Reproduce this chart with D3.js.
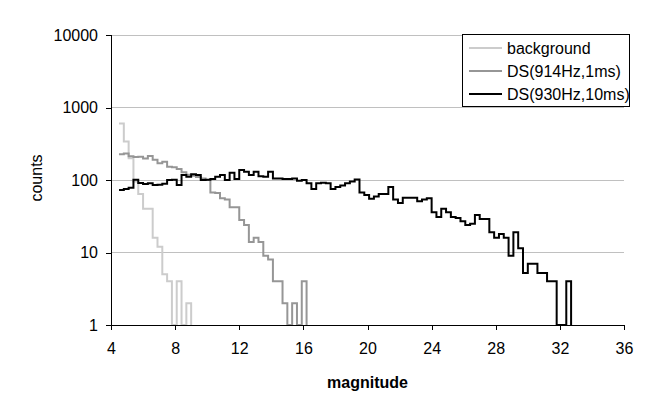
<!DOCTYPE html>
<html>
<head>
<meta charset="utf-8">
<script src="https://cdn.jsdelivr.net/npm/d3@7"></script>
<style>
  html, body { margin: 0; padding: 0; background: #fff; }
  svg { display: block; font-family: "Liberation Sans", Arial, sans-serif; }
</style>
</head>
<body>
<svg id="chart" width="652" height="414"></svg>
<script>
// ---- data ----
const binStart = 4.5;      // magnitude of first bin edge
const binWidth = 0.3;      // magnitude width of each bin
const xTicks = [4, 8, 12, 16, 20, 24, 28, 32, 36];
const yTicks = [1, 10, 100, 1000, 10000];
const seriesNames = ["background", "DS(914Hz,1ms)", "DS(930Hz,10ms)"];
const seriesColors = ["#cccccc", "#969696", "#000000"];

const background = [600, 340, 200, 95, 64, 40, 40, 16, 12, 5, 4, 0, 4, 0, 2];

const ds914 = [226, 232, 212, 208, 210, 198, 214, 190, 170, 178,
               152, 150, 142, 128, 118, 114, 110, 105, 100, 67,
               66, 56, 54, 42, 42, 28, 24, 14, 16, 14,
               9, 8, 4, 4, 2, 0, 2, 0, 4];

const ds930 = [73, 75, 78, 101, 91, 88, 90, 85, 86, 89,
               100, 101, 85, 117, 111, 120, 117, 100, 101, 103,
               111, 117, 100, 126, 103, 137, 130, 117, 130, 113,
               111, 130, 105, 105, 103, 103, 105, 98, 100, 90,
               75, 90, 92, 90, 75, 80, 84, 90, 95, 102,
               67, 62, 55, 59, 64, 64, 80, 54, 48, 57,
               57, 57, 51, 54, 56, 36, 31, 40, 36, 31,
               30, 27, 24, 25, 33, 29, 29, 19, 16, 18,
               16, 9, 19, 11.4, 5.2, 7, 7, 5.2, 5.2, 4,
               4, 0, 0, 4];

const allSeries = [background, ds914, ds930];

// ---- layout ----
const svg = d3.select("#chart");
const pLeft = 111, pRight = 624, pTop = 35, pBottom = 325;

const x = d3.scaleLinear().domain([4, 36]).range([pLeft, pRight]);
const y = d3.scaleLog().domain([1, 10000]).range([pBottom, pTop]);

// gridlines
svg.append("g")
  .selectAll("line")
  .data(yTicks.filter(d => d > 1))
  .join("line")
  .attr("x1", pLeft).attr("x2", pRight)
  .attr("y1", d => y(d)).attr("y2", d => y(d))
  .attr("stroke", "#c0c0c0").attr("stroke-width", 1)
  .attr("shape-rendering", "crispEdges");

// series
const line = d3.line()
  .x(d => x(d[0]))
  .y(d => y(Math.max(d[1], 1)))
  .curve(d3.curveStepAfter);

allSeries.forEach((vals, i) => {
  const pts = vals.map((v, k) => [binStart + k * binWidth, v]);
  pts.push([binStart + vals.length * binWidth, 0]);
  svg.append("path")
    .datum(pts)
    .attr("fill", "none")
    .attr("stroke", seriesColors[i])
    .attr("stroke-width", 2)
    .attr("stroke-linejoin", "miter")
    .attr("d", line);
});

// axes
const yAxis = svg.append("g")
  .attr("transform", `translate(${pLeft},0)`)
  .call(d3.axisLeft(y).tickValues(yTicks).tickFormat(d3.format("d")).tickSize(5).tickPadding(8));
const xAxis = svg.append("g")
  .attr("transform", `translate(0,${pBottom})`)
  .call(d3.axisBottom(x).tickValues(xTicks).tickFormat(d3.format("d")).tickSize(5).tickPadding(13));

[yAxis, xAxis].forEach(g => {
  g.select(".domain").attr("stroke", "#000").attr("shape-rendering", "crispEdges");
  g.selectAll(".tick line").attr("stroke", "#000").attr("shape-rendering", "crispEdges");
  g.selectAll(".tick text").attr("fill", "#000").style("font-size", "16px")
    .style("font-family", '"Liberation Sans", Arial, sans-serif');
});
yAxis.select(".domain").attr("d", `M0,${pTop}V${pBottom}`);
xAxis.select(".domain").attr("d", `M${pLeft},0H${pRight}`);

// axis titles
svg.append("text")
  .attr("x", (pLeft + pRight) / 2).attr("y", 388)
  .attr("text-anchor", "middle")
  .style("font-size", "16px").style("font-weight", "bold")
  .text("magnitude");

svg.append("text")
  .attr("transform", `translate(42,${(pTop + pBottom) / 2 - 2}) rotate(-90)`)
  .attr("text-anchor", "middle")
  .style("font-size", "16px")
  .text("counts");

// legend
const lg = svg.append("g");
lg.append("rect")
  .attr("x", 462.5).attr("y", 34.5).attr("width", 167).attr("height", 72)
  .attr("fill", "#fff").attr("stroke", "#000").attr("stroke-width", 1);
seriesNames.forEach((name, i) => {
  const yy = 48 + i * 23;
  lg.append("line")
    .attr("x1", 469).attr("x2", 502).attr("y1", yy).attr("y2", yy)
    .attr("stroke", seriesColors[i]).attr("stroke-width", 2);
  lg.append("text")
    .attr("x", 507).attr("y", yy).attr("dy", "0.35em")
    .style("font-size", "16px")
    .text(name);
});
</script>
</body>
</html>
